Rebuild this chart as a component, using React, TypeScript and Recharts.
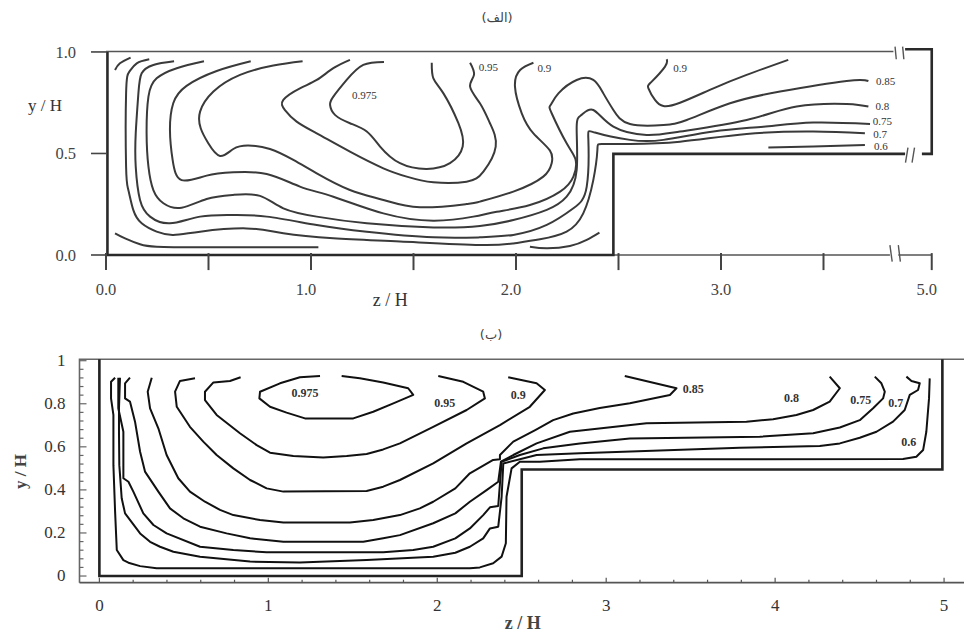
import React from 'react';
import { ComposedChart, Line, XAxis, YAxis, ReferenceDot } from 'recharts';

type P = [number, number];

// ---------- Upper panel (الف): contours read as [z/H, y/H] ----------
const topC975: P[] = [[1.356,.951],[1.255,.936],[1.174,.862],[1.109,.78],[1.093,.739],[1.117,.69],[1.19,.649],[1.272,.608],[1.337,.534],[1.434,.452],[1.564,.424],[1.678,.452],[1.74,.534],[1.719,.649],[1.646,.796],[1.597,.87],[1.589,.947]];
const topC95: P[] = [[1.19,.961],[1.109,.92],[1.028,.862],[.946,.821],[.865,.764],[.873,.714],[.93,.657],[1.028,.599],[1.19,.509],[1.353,.427],[1.467,.386],[1.597,.358],[1.759,.361],[1.841,.411],[1.901,.534],[1.873,.649],[1.824,.747],[1.776,.829],[1.795,.887],[1.776,.947]];
const topC90a: P[] = [[.959,.954],[.816,.933],[.654,.887],[.524,.805],[.459,.706],[.462,.624],[.499,.55],[.556,.488],[.621,.522],[.694,.539],[.8,.522],[.914,.468],[1.028,.402],[1.19,.32],[1.353,.271],[1.532,.235],[1.759,.251],[1.824,.263],[1.987,.312],[2.133,.386],[2.174,.452],[2.165,.515],[2.085,.599],[2.028,.698],[1.995,.829],[2.02,.911],[2.085,.947]];
const topC90b: P[] = [[2.735,.964],[2.727,.928],[2.662,.854],[2.646,.821],[2.678,.764],[2.719,.734],[2.8,.75],[2.963,.821],[3.125,.887],[3.328,.961]];
const topC85: P[] = [[.706,.954],[.54,.906],[.393,.833],[.328,.747],[.312,.616],[.325,.468],[.369,.369],[.491,.391],[.621,.407],[.784,.399],[.946,.337],[1.109,.287],[1.353,.205],[1.597,.169],[1.792,.189],[1.906,.213],[2.068,.246],[2.215,.312],[2.28,.386],[2.291,.468],[2.247,.55],[2.174,.698],[2.169,.739],[2.207,.796],[2.296,.862],[2.377,.862],[2.426,.796],[2.475,.714],[2.556,.645],[2.719,.64],[2.833,.665],[3.044,.747],[3.288,.805],[3.613,.857],[3.719,.857]];
const topC80: P[] = [[.478,.954],[.345,.92],[.247,.87],[.207,.78],[.198,.599],[.207,.435],[.231,.32],[.28,.255],[.369,.233],[.491,.276],[.621,.296],[.751,.291],[.865,.23],[1.028,.189],[1.272,.156],[1.597,.136],[1.824,.143],[1.987,.172],[2.15,.222],[2.247,.287],[2.296,.419],[2.296,.632],[2.32,.69],[2.377,.714],[2.475,.632],[2.637,.591],[2.8,.608],[3.125,.665],[3.369,.731],[3.613,.744],[3.719,.731]];
const topC75: P[] = [[.332,.954],[.231,.936],[.174,.895],[.158,.796],[.145,.599],[.145,.435],[.166,.271],[.215,.189],[.312,.156],[.459,.189],[.621,.197],[.784,.189],[1.028,.148],[1.272,.115],[1.597,.087],[1.824,.087],[1.987,.099],[2.15,.148],[2.28,.23],[2.345,.337],[2.353,.567],[2.385,.603],[2.556,.567],[2.719,.567],[2.963,.608],[3.207,.632],[3.45,.652],[3.727,.645]];
const topC70: P[] = [[.211,.964],[.15,.944],[.114,.903],[.098,.796],[.098,.435],[.109,.32],[.133,.222],[.174,.156],[.247,.115],[.328,.099],[.459,.115],[.686,.131],[.865,.107],[1.109,.082],[1.434,.066],[1.824,.049],[1.987,.057],[2.117,.077],[2.247,.115],[2.328,.205],[2.377,.369],[2.397,.517],[2.418,.547],[2.556,.547],[2.8,.558],[3.125,.596],[3.45,.608],[3.702,.599]];
const topC60a: P[] = [[.044,.911],[.068,.944],[.12,.972]];
const topC60b: P[] = [[.044,.107],[.093,.082],[.166,.053],[.247,.041],[.459,.038],[.784,.038],[1.036,.038]];
const topC60c: P[] = [[2.068,.041],[2.15,.033],[2.263,.044],[2.345,.074],[2.407,.11]];
const topC60d: P[] = [[3.231,.53],[3.45,.534],[3.702,.542]];
const topContours = [topC975, topC95, topC90a, topC90b, topC85, topC80, topC75, topC70, topC60a, topC60b, topC60c, topC60d];

const topWallThick: P[][] = [
  [[.007,0],[.007,1]],
  [[0,0],[2.475,0],[2.475,.498],[3.898,.498]],
  [[3.98,.498],[4.028,.498],[4.028,1.013],[3.898,1.013]],
];
const topWallThin: P[][] = [
  [[0,1.002],[3.841,1.002]],
  [[2.475,0],[3.824,0]],
  [[3.865,0],[4.028,0]],
  [[3.849,1.026],[3.855,.964]],
  [[3.886,1.026],[3.892,.964]],
  [[3.912,.529],[3.9,.455]],
  [[3.944,.529],[3.932,.455]],
  [[3.824,.049],[3.835,-.033]],
  [[3.865,.049],[3.875,-.033]],
];
const topXTicks = [0, .5, 1, 1.5, 2, 2.5, 3, 3.5, 4.028];
const topXLabels: Record<string, string> = { '0': '0.0', '1': '1.0', '2': '2.0', '3': '3.0', '4.028': '5.0' };
const topYTicks = [0, .5, 1];
const topNotes: [number, number, string][] = [[1.26,.788,'0.975'],[1.865,.923,'0.95'],[2.138,.92,'0.9'],[2.8,.92,'0.9'],[3.803,.857,'0.85'],[3.787,.734,'0.8'],[3.787,.658,'0.75'],[3.776,.597,'0.7'],[3.78,.536,'0.6']];

// ---------- Lower panel (ب) ----------
const botC975: P[] = [[1.306,.929],[1.187,.923],[1.069,.895],[.951,.856],[.947,.825],[1.01,.786],[1.108,.759],[1.217,.732],[1.503,.732],[1.621,.763],[1.74,.802],[1.858,.841],[1.828,.872],[1.68,.899],[1.542,.918],[1.434,.929]];
const botC95: P[] = [[.836,.923],[.773,.906],[.675,.899],[.625,.856],[.625,.817],[.694,.748],[.832,.663],[.931,.608],[1.01,.573],[1.148,.557],[1.325,.551],[1.464,.557],[1.582,.567],[1.68,.588],[1.779,.616],[1.976,.693],[2.174,.771],[2.282,.825],[2.272,.856],[2.154,.902],[2.006,.929]];
const botC90: P[] = [[.566,.918],[.477,.906],[.448,.856],[.458,.786],[.536,.693],[.615,.624],[.694,.562],[.793,.5],[.892,.446],[.99,.407],[1.089,.392],[1.582,.395],[1.68,.415],[1.779,.446],[1.976,.523],[2.174,.616],[2.371,.701],[2.548,.786],[2.637,.864],[2.588,.895],[2.42,.923]];
const botC85: P[] = [[.31,.921],[.286,.856],[.3,.779],[.349,.686],[.398,.562],[.467,.454],[.536,.392],[.625,.345],[.714,.307],[.793,.283],[.951,.26],[1.089,.249],[1.483,.249],[1.621,.26],[1.779,.283],[1.897,.314],[1.976,.345],[2.107,.407],[2.193,.477],[2.331,.539],[2.371,.542],[2.371,.562],[2.45,.624],[2.58,.678],[2.686,.724],[2.805,.755],[2.962,.78],[3.14,.802],[3.377,.841],[3.416,.872],[3.11,.929]];
const botC80: P[] = [[.181,.921],[.152,.895],[.152,.825],[.181,.81],[.211,.717],[.241,.577],[.27,.485],[.349,.392],[.418,.314],[.497,.268],[.596,.229],[.753,.198],[.892,.175],[1.089,.159],[1.562,.159],[1.68,.175],[1.779,.19],[1.976,.245],[2.107,.291],[2.193,.345],[2.292,.399],[2.361,.438],[2.377,.531],[2.45,.562],[2.588,.616],[2.785,.67],[3.239,.709],[3.83,.717],[3.988,.728],[4.126,.748],[4.225,.771],[4.323,.81],[4.383,.872],[4.323,.926]];
const botC75: P[] = [[.112,.921],[.112,.779],[.142,.67],[.142,.454],[.172,.438],[.201,.392],[.26,.291],[.32,.237],[.398,.198],[.596,.136],[.793,.121],[.99,.11],[1.68,.11],[1.858,.121],[1.976,.136],[2.107,.175],[2.193,.221],[2.272,.283],[2.312,.319],[2.361,.325],[2.381,.531],[2.489,.562],[2.627,.593],[2.844,.616],[3.14,.639],[3.909,.647],[4.225,.663],[4.383,.69],[4.501,.724],[4.58,.779],[4.639,.825],[4.649,.856],[4.629,.895],[4.59,.926]];
const botC70: P[] = [[.122,.921],[.116,.779],[.116,.67],[.118,.515],[.132,.361],[.152,.291],[.241,.198],[.3,.159],[.359,.136],[.438,.113],[.596,.09],[.892,.067],[1.187,.063],[1.582,.074],[1.976,.09],[2.107,.108],[2.193,.136],[2.272,.175],[2.312,.221],[2.361,.229],[2.381,.368],[2.391,.523],[2.588,.562],[2.844,.57],[3.791,.596],[4.264,.604],[4.383,.616],[4.501,.642],[4.6,.67],[4.698,.717],[4.767,.771],[4.797,.841],[4.846,.864],[4.856,.895],[4.807,.906],[4.777,.926]];
const botC60: P[] = [[.093,.921],[.069,.902],[.069,.825],[.083,.748],[.083,.515],[.093,.299],[.103,.121],[.142,.074],[.172,.062],[.241,.046],[.339,.036],[2.193,.036],[2.252,.04],[2.331,.059],[2.381,.09],[2.406,.152],[2.41,.368],[2.44,.5],[2.489,.531],[2.607,.531],[2.844,.542],[4.757,.543],[4.836,.554],[4.876,.585],[4.895,.67],[4.911,.825],[4.915,.918]];
const botContours = [botC975, botC95, botC90, botC85, botC80, botC75, botC70, botC60];
const botWall: P[] = [[0,1.0065],[0,0],[2.5,0],[2.5,.495],[4.99,.495],[4.99,1.0065]];
const botFrame: P[] = [[-.1177,-.031],[-.1177,1.0065],[5.118,1.0065]];
const botXTicks = [0,.2,.4,.6,.8,1,1.2,1.4,1.6,1.8,2,2.2,2.4,2.6,2.8,3,3.2,3.4,3.6,3.8,4,4.2,4.4,4.6,4.8,5];
const botYTicks = [0,.04,.08,.12,.16,.2,.24,.28,.32,.36,.4,.44,.48,.52,.56,.6,.64,.68,.72,.76,.8,.84,.88,.92,.96,1];
const botNotes: [number, number, string][] = [[1.217,.851,'0.975'],[2.045,.805,'0.95'],[2.479,.841,'0.9'],[3.515,.868,'0.85'],[4.097,.83,'0.8'],[4.507,.82,'0.75'],[4.714,.805,'0.7'],[4.791,.624,'0.6']];

const SERIF = '"Liberation Serif", serif';
const pts = (a: P[]) => a.map(([z, y]) => ({ z, y }));
const isMajor = (v: number) => Math.abs(v / .2 - Math.round(v / .2)) < 1e-6;
const isUnit = (v: number) => Math.abs(v - Math.round(v)) < 1e-6;
const yText = (v: number) => (isUnit(v) ? String(Math.round(v)) : v.toFixed(1));

const TopXTick = (p: any) => {
  const v = p.payload.value;
  const text = topXLabels[String(v)];
  const dx = v === 1 || v === 2 || v === 4.028 ? -5 : 0;
  return (
    <g>
      <line x1={p.x} x2={p.x} y1={p.y - 9} y2={p.y + 8} stroke="#444" strokeWidth={2} />
      {text && <text x={p.x + dx} y={p.y + 33} textAnchor="middle" fontFamily={SERIF} fontSize={16.5} fill="#444">{text}</text>}
    </g>
  );
};
const BotXTick = (p: any) => {
  const v = p.payload.value;
  const len = isUnit(v) ? 5 : 3;
  return (
    <g>
      <line x1={p.x} x2={p.x} y1={p.y} y2={p.y - len} stroke="#555" strokeWidth={1.2} />
      {isUnit(v) && <text x={p.x} y={p.y + 28} textAnchor="middle" fontFamily={SERIF} fontSize={17} fill="#333">{v}</text>}
    </g>
  );
};
const BotTopTick = (p: any) => {
  const len = isUnit(p.payload.value) ? 5 : 3;
  return <line x1={p.x} x2={p.x} y1={p.y} y2={p.y + len} stroke="#555" strokeWidth={1.2} />;
};
const BotYTick = (p: any) => {
  const v = p.payload.value;
  const len = isMajor(v) ? 7 : 4;
  return (
    <g>
      <line x1={p.x} x2={p.x + len} y1={p.y} y2={p.y} stroke="#666" strokeWidth={1.2} />
      {isMajor(v) && <text x={p.x - 14} y={p.y + 5} textAnchor="end" fontFamily={SERIF} fontSize={17} fill="#333">{yText(v)}</text>}
    </g>
  );
};
const BotRightTick = (p: any) => (
  <line x1={p.x} x2={p.x - (isMajor(p.payload.value) ? 7 : 4)} y1={p.y} y2={p.y} stroke="#666" strokeWidth={1.2} />
);

const Caption = ({ text, cx, top }: { text: string; cx: number; top: number }) => (
  <div style={{ position: 'absolute', left: cx - 30, width: 60, top, textAlign: 'center', fontFamily: '"DejaVu Sans", sans-serif', fontSize: 13, color: '#444' }}>{text}</div>
);

const noteLabel = (t: string, bold: boolean, size: number) => ({
  value: t, position: 'center' as const, fontFamily: SERIF, fontSize: size, fontWeight: bold ? 700 : 400, fill: '#333',
});

export default function App() {
  return (
    <div style={{ position: 'absolute', left: 0, top: 0, width: 964, height: 635, background: '#fff', overflow: 'hidden' }}>
      <Caption text="(الف)" cx={497} top={10} />
      <Caption text="(ب)" cx={491} top={327} />

      <div style={{ position: 'absolute', left: 0, top: 0 }}>
        <ComposedChart width={964} height={320} margin={{ top: 42, right: 17.5, bottom: 0, left: 0 }}>
          <XAxis dataKey="z" type="number" domain={[0, 4.1]} ticks={topXTicks} interval={0} height={57.9} axisLine={false}
            tickLine={false} tickSize={0} tickMargin={0} tick={<TopXTick />}
            label={{ value: 'z / H', position: 'insideBottom', dx: -136, offset: 14, fontFamily: SERIF, fontSize: 18, fill: '#333' }} />
          <YAxis type="number" domain={[-.035, 1.049]} ticks={topYTicks} interval={0} width={106} axisLine={false}
            tickSize={15} tickMargin={15} tickLine={{ stroke: '#444', strokeWidth: 1.6 }}
            tickFormatter={(v: number) => v.toFixed(1)}
            tick={{ fontFamily: SERIF, fontSize: 16.5, fill: '#444' }}
            label={{ value: 'y / H', position: 'insideLeft', dy: -47, offset: 28, angle: 0, fontFamily: SERIF, fontSize: 17, fill: '#333' }} />
          {topWallThin.map((a, i) => (
            <Line key={'tn' + i} data={pts(a)} dataKey="y" type="linear" dot={false} activeDot={false} stroke="#555" strokeWidth={1.4} isAnimationActive={false} />
          ))}
          {topWallThick.map((a, i) => (
            <Line key={'tk' + i} data={pts(a)} dataKey="y" type="linear" dot={false} activeDot={false} stroke="#2a2a2a" strokeWidth={2.6} isAnimationActive={false} />
          ))}
          {topContours.map((a, i) => (
            <Line key={'tc' + i} data={pts(a)} dataKey="y" type="natural" dot={false} activeDot={false} stroke="#3a3a3a" strokeWidth={2} isAnimationActive={false} />
          ))}
          {topNotes.map(([z, y, t], i) => (
            <ReferenceDot key={'tl' + i} x={z} y={y} r={0} fill="none" stroke="none" ifOverflow="visible" label={noteLabel(t, false, 11)} />
          ))}
        </ComposedChart>
      </div>

      <div style={{ position: 'absolute', left: 0, top: 320 }}>
        <ComposedChart width={964} height={315} margin={{ top: 39.3, right: 0, bottom: 0, left: 0 }}>
          <XAxis dataKey="z" type="number" domain={[-.1177, 5.118]} ticks={botXTicks} interval={0} height={52.3}
            axisLine={{ stroke: '#555', strokeWidth: 1.8 }} tickLine={false} tickSize={0} tickMargin={0} tick={<BotXTick />}
            label={{ value: 'z / H', position: 'insideBottom', dx: 1, offset: 6, fontFamily: SERIF, fontSize: 18, fontWeight: 700, fill: '#444' }} />
          <XAxis xAxisId="t" orientation="top" dataKey="z" type="number" domain={[-.1177, 5.118]} ticks={botXTicks} interval={0} height={0}
            axisLine={false} tickLine={false} tickSize={0} tickMargin={0} tick={<BotTopTick />} />
          <YAxis type="number" domain={[-.031, 1.0065]} ticks={botYTicks} interval={0} width={79.5}
            axisLine={false} tickLine={false} tickSize={0} tickMargin={0} tick={<BotYTick />}
            label={{ value: 'y / H', position: 'insideLeft', angle: -90, offset: 0, dx: 20, dy: 18, fontFamily: SERIF, fontSize: 17, fontWeight: 700, fill: '#444' }} />
          <YAxis yAxisId="r" orientation="right" type="number" domain={[-.031, 1.0065]} ticks={botYTicks} interval={0} width={0}
            axisLine={false} tickLine={false} tickSize={0} tickMargin={0} tick={<BotRightTick />} />
          <Line data={pts(botFrame)} dataKey="y" type="linear" dot={false} activeDot={false} stroke="#666" strokeWidth={1.6} isAnimationActive={false} />
          <Line data={pts(botWall)} dataKey="y" type="linear" dot={false} activeDot={false} stroke="#222" strokeWidth={2.6} isAnimationActive={false} />
          {botContours.map((a, i) => (
            <Line key={'bc' + i} data={pts(a)} dataKey="y" type="linear" dot={false} activeDot={false} stroke="#111" strokeWidth={2} strokeLinejoin="round" isAnimationActive={false} />
          ))}
          {botNotes.map(([z, y, t], i) => (
            <ReferenceDot key={'bl' + i} x={z} y={y} r={0} fill="none" stroke="none" ifOverflow="visible" label={noteLabel(t, true, 12)} />
          ))}
        </ComposedChart>
      </div>
    </div>
  );
}
